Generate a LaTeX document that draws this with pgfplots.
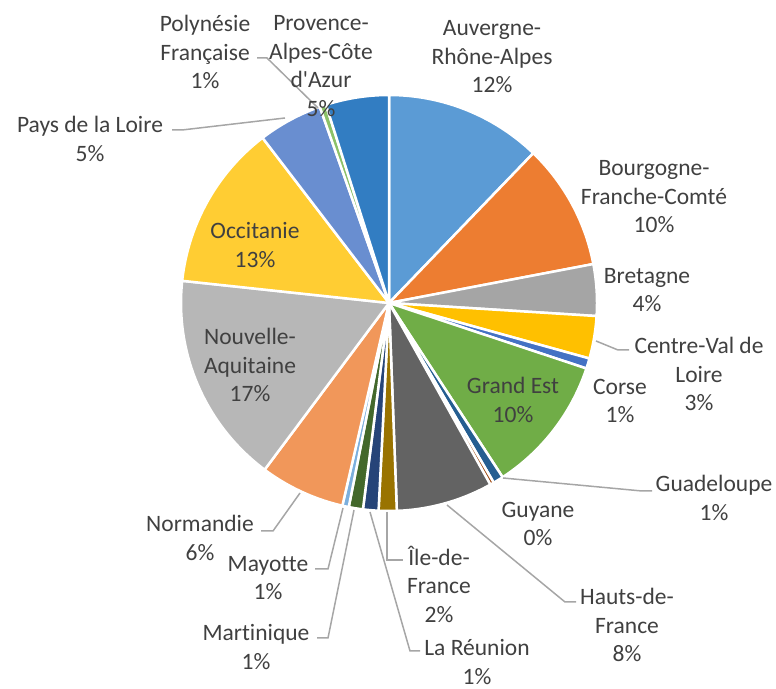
\documentclass[border=0pt]{standalone}
\usepackage{pgfplots}
\pgfplotsset{compat=1.18}
\usepackage{fontspec}
\setmainfont{Carlito}[Ligatures=NoCommon]
\definecolor{txt}{HTML}{404040}
\definecolor{lead}{HTML}{A6A6A6}
\definecolor{cARA}{HTML}{5B9BD5}
\definecolor{cBFC}{HTML}{ED7D31}
\definecolor{cBRE}{HTML}{A5A5A5}
\definecolor{cCVL}{HTML}{FFC000}
\definecolor{cCOR}{HTML}{4472C4}
\definecolor{cGES}{HTML}{70AD47}
\definecolor{cGUA}{HTML}{255E91}
\definecolor{cGUY}{HTML}{9E480E}
\definecolor{cHDF}{HTML}{636363}
\definecolor{cIDF}{HTML}{997300}
\definecolor{cREU}{HTML}{264478}
\definecolor{cMAR}{HTML}{43682B}
\definecolor{cMAY}{HTML}{7CAFDD}
\definecolor{cNOR}{HTML}{F1975A}
\definecolor{cNAQ}{HTML}{B7B7B7}
\definecolor{cOCC}{HTML}{FFCD33}
\definecolor{cPDL}{HTML}{698ED0}
\definecolor{cPOL}{HTML}{8CC168}
\definecolor{cPAC}{HTML}{327DC2}
\newcommand\sq{\XeTeXglyph\the\XeTeXcharglyph"0027\relax}
\tikzset{lab/.style={font={\fontsize{23.5bp}{28.5bp}\selectfont}, text=txt, align=center, inner sep=0pt},
  ld/.style={draw=lead, line width=1.5bp}}
\newcommand\cum{0}
\newcommand{\slice}[2]{%
  \edef\temp{\noexpand\addplot[fill=#1, draw=white, line width=2.5bp, line join=round, data cs=polar, domain=\fpeval{90-3.6*(\cum+#2)}:\fpeval{90-3.6*\cum}, samples=60] {208} -- (axis cs:0,0) -- cycle;}\temp
  \xdef\cum{\fpeval{\cum+#2}}}
\begin{document}
\begin{tikzpicture}
\useasboundingbox (0,0) rectangle (776bp,689bp);
\begin{axis}[hide axis, scale only axis, width=776bp, height=689bp,
  xmin=-389, xmax=387, ymin=-386, ymax=303, clip=false,
  anchor=south west, at={(0,0)}]
\slice{cARA}{12.2}
\slice{cBFC}{9.8}
\slice{cBRE}{4.0}
\slice{cCVL}{3.3}
\slice{cCOR}{0.8}
\slice{cGES}{10.7}
\slice{cGUA}{0.8}
\slice{cGUY}{0.3}
\slice{cHDF}{7.5}
\slice{cIDF}{1.4}
\slice{cREU}{1.2}
\slice{cMAR}{1.1}
\slice{cMAY}{0.5}
\slice{cNOR}{6.6}
\slice{cNAQ}{16.5}
\slice{cOCC}{12.9}
\slice{cPDL}{5.0}
\slice{cPOL}{0.5}
\slice{cPAC}{4.9}
% leader lines
\draw[ld] (axis cs:207,-38) -- (axis cs:229,-47) -- (axis cs:240,-47);
\draw[ld] (axis cs:114,-175) -- (axis cs:253,-188) -- (axis cs:263,-188);
\draw[ld] (axis cs:58,-202) -- (axis cs:176,-299) -- (axis cs:187,-299);
\draw[ld] (axis cs:-2,-209) -- (axis cs:-2,-257) -- (axis cs:14,-257);
\draw[ld] (axis cs:-19,-209) -- (axis cs:21,-348) -- (axis cs:31,-348);
\draw[ld] (axis cs:-35,-207) -- (axis cs:-61,-335) -- (axis cs:-72,-335);
\draw[ld] (axis cs:-46,-205) -- (axis cs:-61,-266) -- (axis cs:-74,-266);
\draw[ld] (axis cs:-89,-190) -- (axis cs:-116,-228) -- (axis cs:-128,-228);
\draw[ld] (axis cs:-217,173) -- (axis cs:-207,173) -- (axis cs:-104,185);
\draw[ld] (axis cs:-132,245) -- (axis cs:-122,245) -- (axis cs:-71,195);
% labels
\node[lab] at (axis cs:103,246) {Auvergne-\\Rhône-Alpes\\12\%};
\node[lab] at (axis cs:265,106) {Bourgogne-\\Franche-Comté\\10\%};
\node[lab] at (axis cs:258,13) {Bretagne\\4\%};
\node[lab] at (axis cs:310,-71) {Centre-Val de\\Loire\\3\%};
\node[lab] at (axis cs:231,-98) {Corse\\1\%};
\node[lab] at (axis cs:124,-97) {Grand Est\\10\%};
\node[lab] at (axis cs:325,-195) {Guadeloupe\\1\%};
\node[lab] at (axis cs:149,-221) {Guyane\\0\%};
\node[lab] at (axis cs:238,-322) {Hauts-de-\\France\\8\%};
\node[lab] at (axis cs:50,-281) {Île-de-\\France\\2\%};
\node[lab] at (axis cs:88,-359) {La Réunion\\1\%};
\node[lab] at (axis cs:-133,-344) {Martinique\\1\%};
\node[lab] at (axis cs:-121,-275) {Mayotte\\1\%};
\node[lab] at (axis cs:-189,-235) {Normandie\\6\%};
\node[lab] at (axis cs:-139,-62) {Nouvelle-\\Aquitaine\\17\%};
\node[lab] at (axis cs:-134,58) {Occitanie\\13\%};
\node[lab] at (axis cs:-299,164) {Pays de la Loire\\5\%};
\node[lab] at (axis cs:-184,251) {Polynésie\\Française\\1\%};
\node[lab] at (axis cs:-68,237) {Provence-\\Alpes-Côte\\d\sq Azur\\5\%};
\end{axis}
\end{tikzpicture}
\end{document}
